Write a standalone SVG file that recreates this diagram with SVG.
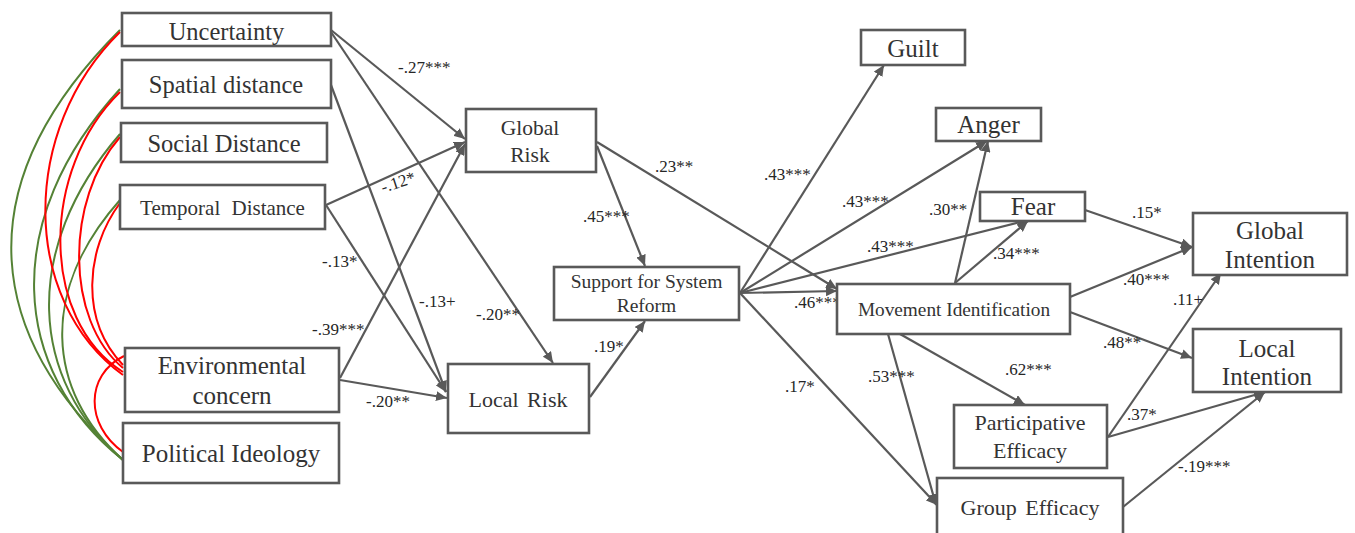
<svg xmlns="http://www.w3.org/2000/svg" width="1355" height="533" viewBox="0 0 1355 533">
  <style>
    .box { fill: #ffffff; stroke: #595959; stroke-width: 2.6; }
    .nt { fill: #333333; text-anchor: middle; }
    .edge { stroke: #595959; stroke-width: 2.2; fill: none; marker-end: url(#arr); }
    .lbl { font-size: 17px; fill: #262626; }
    .cov-g { stroke: #548235; stroke-width: 2; fill: none; }
    .cov-r { stroke: #ff0000; stroke-width: 2; fill: none; }
  </style>
  <defs>
    <marker id="arr" markerUnits="userSpaceOnUse" markerWidth="12" markerHeight="10" refX="11" refY="5" orient="auto">
      <path d="M0,0 L11,5 L0,10 z" fill="#595959"/>
    </marker>
  </defs>
  <rect width="1355" height="533" fill="#ffffff"/>

  <!-- covariances among exogenous predictors -->
  <g id="covariances">
    <path class="cov-g" d="M120,30 C-40,190 -10,340 123,460"/>
    <path class="cov-g" d="M120,89 C0,220 10,370 123,460"/>
    <path class="cov-g" d="M120,134 C20,250 30,380 123,460"/>
    <path class="cov-g" d="M120,200 C40,290 45,390 123,460"/>
    <path class="cov-r" d="M120,32 C20,130 20,300 123,375"/>
    <path class="cov-r" d="M120,92 C40,170 40,320 123,372"/>
    <path class="cov-r" d="M120,137 C65,200 65,320 123,368"/>
    <path class="cov-r" d="M120,203 C85,250 80,320 123,365"/>
    <path class="cov-r" d="M124,356 C85,375 85,425 123,452"/>
  </g>

  <!-- structural paths -->
  <g id="connectors">
    <line class="edge" x1="331" y1="30" x2="465" y2="139"/>
    <line class="edge" x1="331" y1="32" x2="553" y2="363"/>
    <line class="edge" x1="331" y1="85" x2="446" y2="392"/>
    <line class="edge" x1="326" y1="205" x2="465" y2="142"/>
    <line class="edge" x1="326" y1="205" x2="446" y2="392"/>
    <line class="edge" x1="340" y1="378" x2="465" y2="144"/>
    <line class="edge" x1="340" y1="380" x2="447" y2="398"/>
    <line class="edge" x1="597" y1="146" x2="645" y2="266"/>
    <line class="edge" x1="597" y1="142" x2="837" y2="289"/>
    <line class="edge" x1="590" y1="397" x2="645" y2="321"/>
    <line class="edge" x1="740" y1="293" x2="884" y2="65"/>
    <line class="edge" x1="740" y1="293" x2="987" y2="141"/>
    <line class="edge" x1="740" y1="293" x2="1028" y2="220"/>
    <line class="edge" x1="740" y1="293" x2="837" y2="291"/>
    <line class="edge" x1="740" y1="293" x2="937" y2="505"/>
    <line class="edge" x1="955" y1="283" x2="988" y2="141"/>
    <line class="edge" x1="955" y1="283" x2="1028" y2="221"/>
    <line class="edge" x1="1085" y1="210" x2="1192" y2="247"/>
    <line class="edge" x1="1070" y1="297" x2="1192" y2="247"/>
    <line class="edge" x1="1070" y1="312" x2="1192" y2="358"/>
    <line class="edge" x1="900" y1="334" x2="1025" y2="405"/>
    <line class="edge" x1="888" y1="334" x2="936" y2="505"/>
    <line class="edge" x1="1108" y1="437" x2="1221" y2="273"/>
    <line class="edge" x1="1108" y1="437" x2="1265" y2="392"/>
    <line class="edge" x1="1123" y1="507" x2="1265" y2="392"/>
  </g>

  <!-- path coefficients -->
  <g id="labels" font-family="'Liberation Serif', 'DejaVu Serif', serif">
    <text class="lbl" x="398" y="73">-.27***</text>
    <text class="lbl" x="383" y="193" transform="rotate(-18 383 193)">-.12*</text>
    <text class="lbl" x="322" y="267">-.13*</text>
    <text class="lbl" x="419" y="307">-.13+</text>
    <text class="lbl" x="476" y="320">-.20**</text>
    <text class="lbl" x="312" y="335">-.39***</text>
    <text class="lbl" x="366" y="407">-.20**</text>
    <text class="lbl" x="594" y="352">.19*</text>
    <text class="lbl" x="583" y="222">.45***</text>
    <text class="lbl" x="655" y="172">.23**</text>
    <text class="lbl" x="764" y="180">.43***</text>
    <text class="lbl" x="842" y="207">.43***</text>
    <text class="lbl" x="929" y="215">.30**</text>
    <text class="lbl" x="867" y="252">.43***</text>
    <text class="lbl" x="993" y="259">.34***</text>
    <text class="lbl" x="794" y="308">.46***</text>
    <text class="lbl" x="1132" y="218">.15*</text>
    <text class="lbl" x="1123" y="285">.40***</text>
    <text class="lbl" x="1173" y="305">.11+</text>
    <text class="lbl" x="1103" y="348">.48**</text>
    <text class="lbl" x="1127" y="420">.37*</text>
    <text class="lbl" x="1178" y="472">-.19***</text>
    <text class="lbl" x="1005" y="375">.62***</text>
    <text class="lbl" x="868" y="382">.53***</text>
    <text class="lbl" x="785" y="392">.17*</text>
  </g>

  <!-- variables -->
  <g id="nodes" font-family="'Liberation Serif', 'DejaVu Serif', serif">
  <g id="uncertainty">
    <rect class="box" x="122" y="13" width="209" height="33"/>
    <text class="nt" x="226.5" y="40" font-size="24.5">Uncertainty</text>
  </g>
  <g id="spatial-distance">
    <rect class="box" x="122" y="60" width="209" height="48"/>
    <text class="nt" x="226" y="93" font-size="24.5">Spatial distance</text>
  </g>
  <g id="social-distance">
    <rect class="box" x="121" y="123" width="206" height="39"/>
    <text class="nt" x="224" y="152" font-size="24.5">Social Distance</text>
  </g>
  <g id="temporal-distance">
    <rect class="box" x="120" y="185" width="205" height="44"/>
    <text class="nt" x="222.5" y="215" font-size="21" word-spacing="6">Temporal Distance</text>
  </g>
  <g id="environmental-concern">
    <rect class="box" x="125" y="348" width="214" height="64"/>
    <text class="nt" x="232" y="374" font-size="25">Environmental</text>
    <text class="nt" x="232" y="404" font-size="25">concern</text>
  </g>
  <g id="political-ideology">
    <rect class="box" x="123" y="423" width="216" height="60"/>
    <text class="nt" x="231" y="462" font-size="25">Political Ideology</text>
  </g>
  <g id="global-risk">
    <rect class="box" x="466" y="109" width="130" height="63"/>
    <text class="nt" x="530" y="135" font-size="21.5">Global</text>
    <text class="nt" x="530" y="162" font-size="21.5">Risk</text>
  </g>
  <g id="local-risk">
    <rect class="box" x="448" y="364" width="141" height="69"/>
    <text class="nt" x="518" y="407" font-size="22" word-spacing="3">Local Risk</text>
  </g>
  <g id="support-system-reform">
    <rect class="box" x="554" y="267" width="185" height="53"/>
    <text class="nt" x="646.5" y="288" font-size="19.5">Support for System</text>
    <text class="nt" x="646.5" y="312" font-size="19.5">Reform</text>
  </g>
  <g id="guilt">
    <rect class="box" x="861" y="30" width="104" height="35"/>
    <text class="nt" x="913" y="57" font-size="25">Guilt</text>
  </g>
  <g id="anger">
    <rect class="box" x="936" y="108" width="105" height="33"/>
    <text class="nt" x="988.5" y="133" font-size="25">Anger</text>
  </g>
  <g id="fear">
    <rect class="box" x="980" y="192" width="105" height="29"/>
    <text class="nt" x="1033" y="215" font-size="25">Fear</text>
  </g>
  <g id="movement-identification">
    <rect class="box" x="837" y="284" width="233" height="50"/>
    <text class="nt" x="954" y="316" font-size="19.3">Movement Identification</text>
  </g>
  <g id="global-intention">
    <rect class="box" x="1193" y="213" width="154" height="62"/>
    <text class="nt" x="1270" y="239" font-size="25">Global</text>
    <text class="nt" x="1270" y="268" font-size="25">Intention</text>
  </g>
  <g id="local-intention">
    <rect class="box" x="1193" y="329" width="148" height="63"/>
    <text class="nt" x="1267" y="357" font-size="25">Local</text>
    <text class="nt" x="1267" y="385" font-size="25">Intention</text>
  </g>
  <g id="participative-efficacy">
    <rect class="box" x="954" y="405" width="153" height="63"/>
    <text class="nt" x="1030" y="430" font-size="22">Participative</text>
    <text class="nt" x="1030" y="458" font-size="22">Efficacy</text>
  </g>
  <g id="group-efficacy">
    <rect class="box" x="937" y="478" width="186" height="68"/>
    <text class="nt" x="1030" y="515" font-size="22" word-spacing="3">Group Efficacy</text>
  </g>
  </g>
</svg>
